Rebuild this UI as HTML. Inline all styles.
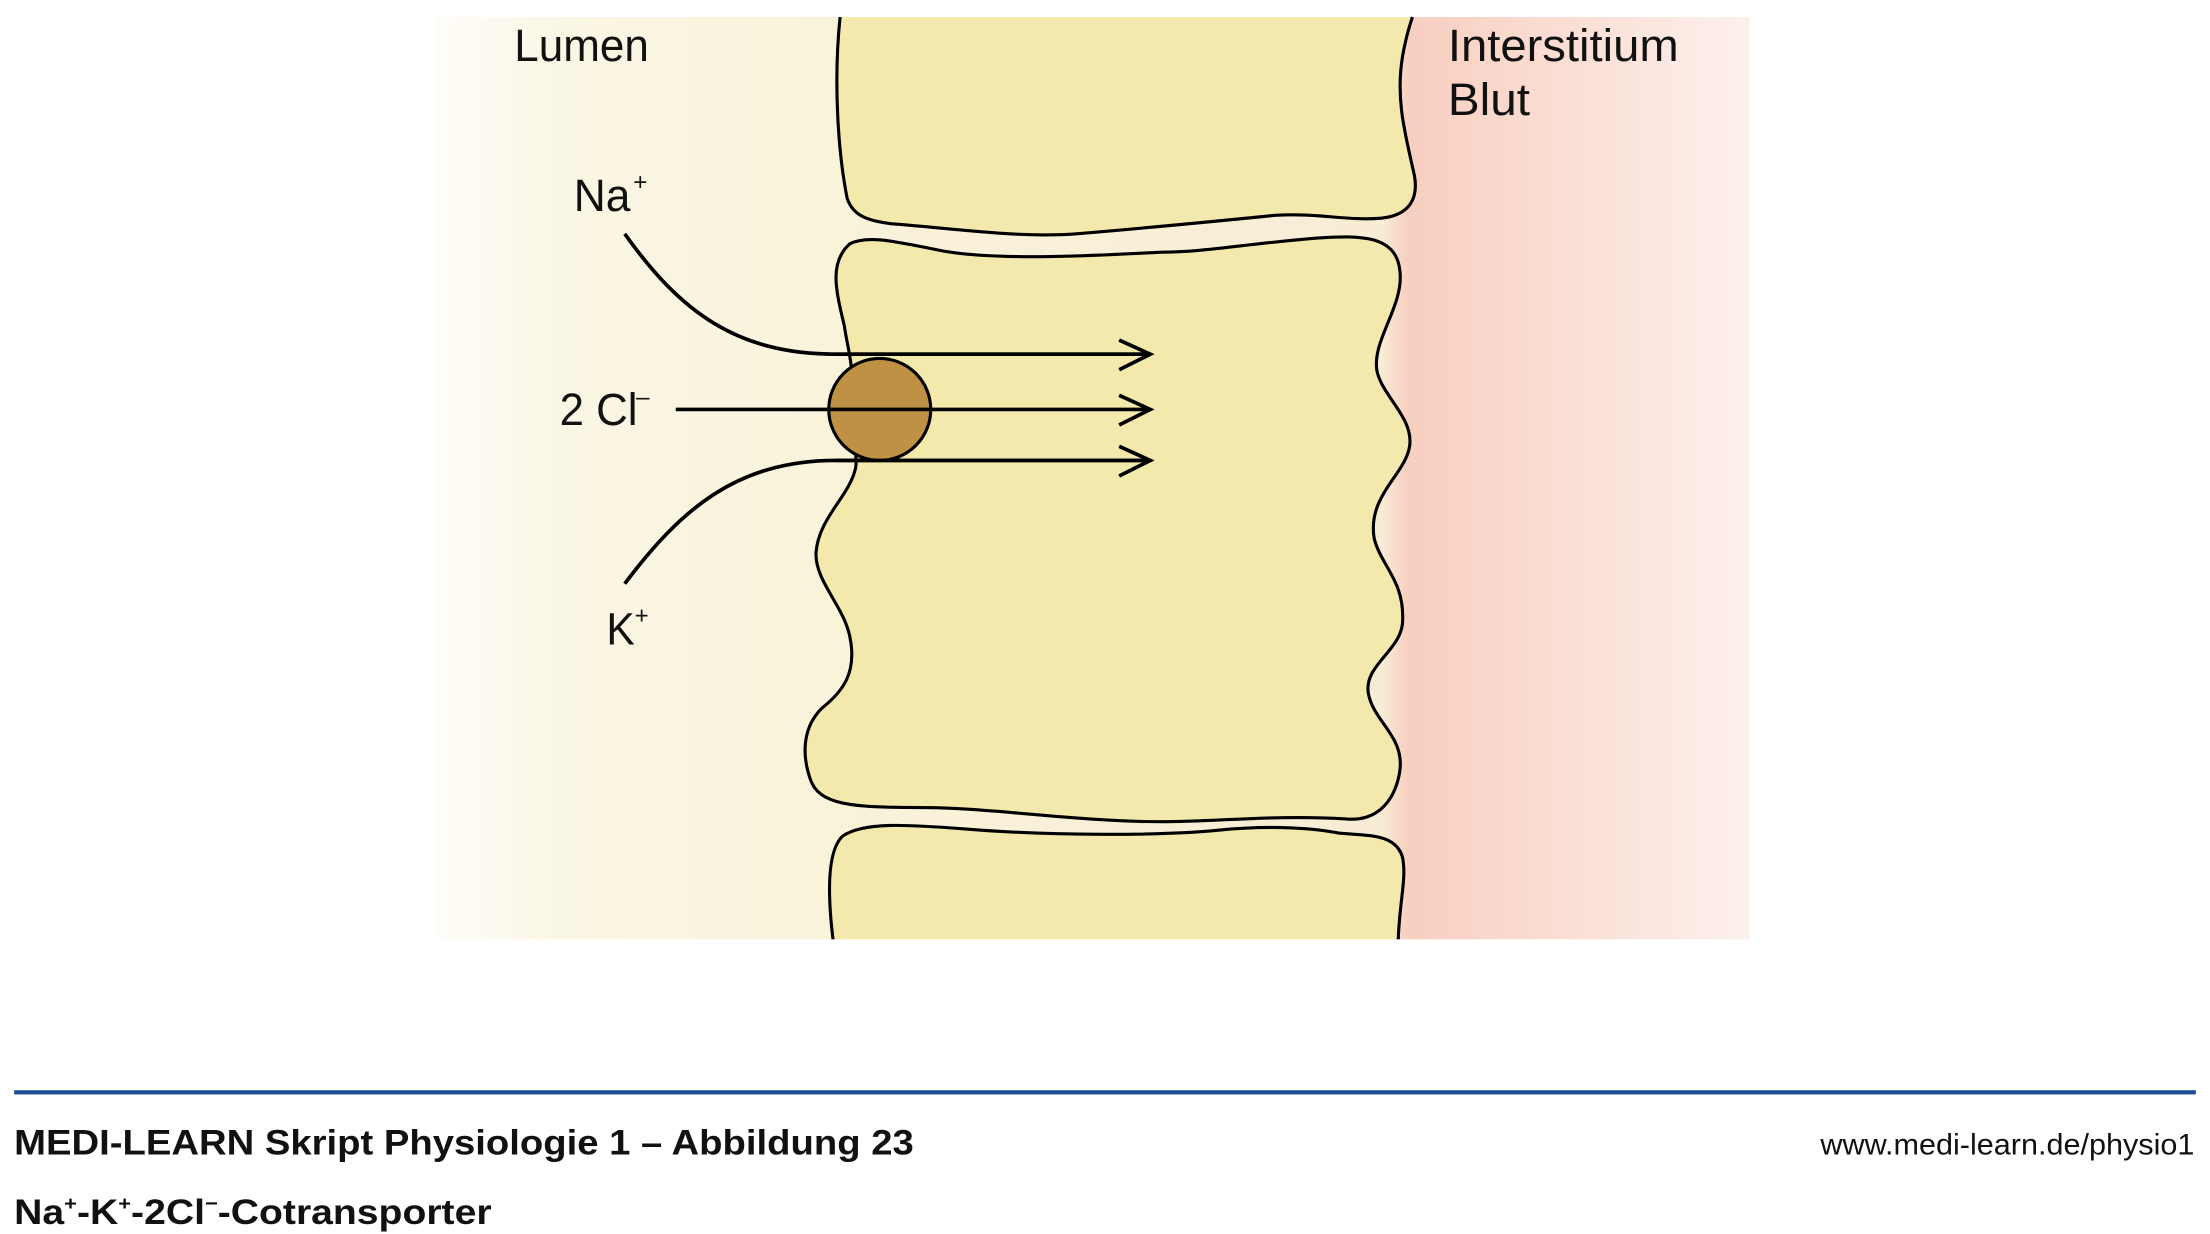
<!DOCTYPE html>
<html><head><meta charset="utf-8"><style>
html,body{margin:0;padding:0;background:#fff;}
svg{display:block;}
text{font-family:"Liberation Sans",sans-serif;}
</style></head><body>
<svg width="2210" height="1234" viewBox="0 0 1560 871" preserveAspectRatio="none" xmlns="http://www.w3.org/2000/svg">
<defs>
<linearGradient id="bg" x1="308" y1="0" x2="1235" y2="0" gradientUnits="userSpaceOnUse">
<stop offset="0" stop-color="#fefdf8"/>
<stop offset="0.1" stop-color="#faf6e4"/>
<stop offset="0.3" stop-color="#f9f3da"/>
<stop offset="0.72" stop-color="#f8ecd5"/>
<stop offset="0.74" stop-color="#f8cfc0"/>
<stop offset="1" stop-color="#fdf0ec"/>
</linearGradient>
</defs>
<rect width="1560" height="871" fill="#fff"/>
<rect x="308" y="12" width="927" height="651" fill="url(#bg)"/>
<g fill="#f3e9ad" stroke="none">
<path d="M593,12 C588,60 592,110 598,140 C602,152 612,156 630,158 C680,162 720,168 760,165 C820,160 870,155 900,152 C930,150 950,156 975,154 C995,152 1002,140 998,122 C992,95 985,70 990,40 C992,28 995,18 997,12 Z"/>
<path d="M588,663 C584,630 584,600 595,590 C610,580 640,582 680,585 C740,590 820,590 860,586 C900,582 930,585 945,588 C965,590 985,588 990,605 C993,620 988,635 987,663 Z"/>
</g>
<g fill="none" stroke="#000" stroke-width="2.2">
<path d="M593,12 C588,60 592,110 598,140 C602,152 612,156 630,158 C680,162 720,168 760,165 C820,160 870,155 900,152 C930,150 950,156 975,154 C995,152 1002,140 998,122 C992,95 985,70 990,40 C992,28 995,18 997,12"/>
<path d="M588,663 C584,630 584,600 595,590 C610,580 640,582 680,585 C740,590 820,590 860,586 C900,582 930,585 945,588 C965,590 985,588 990,605 C993,620 988,635 987,663"/>
</g>
<path fill="#f3e9ad" stroke="#000" stroke-width="2.2" d="M600,172 C612,166 630,170 660,176 C700,185 780,180 820,178 C850,178 880,172 930,168 C960,166 985,166 988,190 C992,215 968,240 972,262 C976,280 998,295 995,315 C992,335 965,350 970,380 C975,400 992,410 990,440 C988,460 962,470 966,490 C970,510 992,520 988,545 C984,568 970,580 950,578 C900,575 860,580 820,580 C760,580 700,570 650,570 C600,570 578,568 572,550 C565,530 568,512 580,500 C595,488 605,475 600,450 C596,428 575,410 576,390 C578,365 600,350 604,330 C607,312 590,305 600,280 C604,262 598,245 596,230 C590,205 585,185 600,172 Z"/>
<path d="M441,165 C480,220 520,250 590,250 L812,250 M441,412 C480,360 520,325 590,325 L812,325" fill="none" stroke="#000" stroke-width="2.6"/>
<path d="M790,240 L812,250 L790,261 M790,279 L812,289 L790,300 M790,315 L812,325 L790,336" fill="none" stroke="#000" stroke-width="2.6"/>
<circle cx="621" cy="289" r="36" fill="#bf9145" stroke="#000" stroke-width="2.2"/>
<path d="M477,289 L812,289 M590,250 L812,250 M590,325 L812,325" stroke="#000" stroke-width="2.6"/>
<g font-size="32" fill="#111">
<text x="363" y="43" textLength="95" lengthAdjust="spacingAndGlyphs">Lumen</text>
<text x="1022" y="43" textLength="163" lengthAdjust="spacingAndGlyphs">Interstitium</text>
<text x="1022" y="81" textLength="58" lengthAdjust="spacingAndGlyphs">Blut</text>
<text x="405" y="149" textLength="40" lengthAdjust="spacingAndGlyphs">Na</text><text x="447" y="134" font-size="17">+</text>
<text x="395" y="300" textLength="55" lengthAdjust="spacingAndGlyphs">2 Cl</text><text x="449" y="286" font-size="17">–</text>
<text x="428" y="455" textLength="20" lengthAdjust="spacingAndGlyphs">K</text><text x="448" y="440" font-size="17">+</text>
</g>
<rect x="10" y="769.5" width="1540" height="3" fill="#1f4e96"/>
<text x="10" y="815" font-size="25" font-weight="bold" fill="#111" textLength="635" lengthAdjust="spacingAndGlyphs">MEDI-LEARN Skript Physiologie 1 – Abbildung 23</text>
<text x="1549" y="815" font-size="21" fill="#111" text-anchor="end" textLength="264" lengthAdjust="spacingAndGlyphs">www.medi-learn.de/physio1</text>
<text x="10" y="864" font-size="25" font-weight="bold" fill="#111" textLength="337" lengthAdjust="spacingAndGlyphs">Na<tspan dy="-10" font-size="14">+</tspan><tspan dy="10">-K</tspan><tspan dy="-10" font-size="14">+</tspan><tspan dy="10">-2Cl</tspan><tspan dy="-10" font-size="14">−</tspan><tspan dy="10">-Cotransporter</tspan></text>
</svg>
</body></html>
